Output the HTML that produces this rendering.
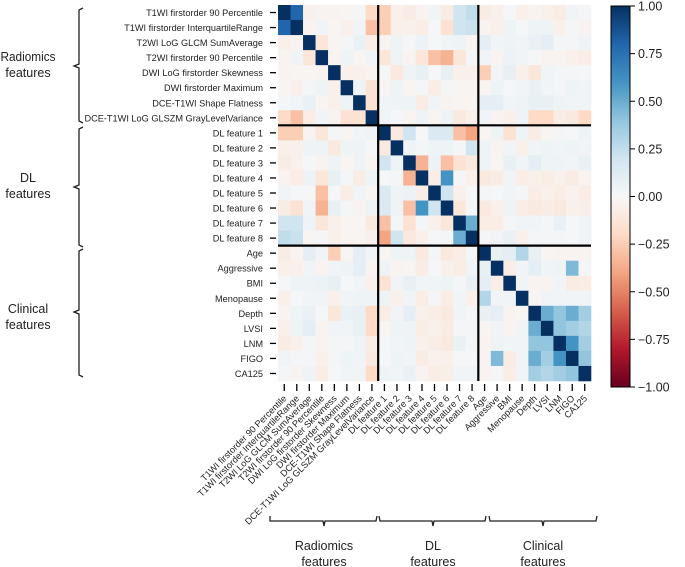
<!DOCTYPE html>
<html><head><meta charset="utf-8"><style>
html,body{margin:0;padding:0;background:#fff;}
svg{display:block;font-family:"Liberation Sans","DejaVu Sans",sans-serif;}
</style></head><body>
<svg id="chart" width="685" height="567" viewBox="0 0 685 567" xmlns="http://www.w3.org/2000/svg">
<defs>
<linearGradient id="cbgrad" x1="0" y1="1" x2="0" y2="0">
<stop offset="0" stop-color="#67001f"/><stop offset="0.1" stop-color="#b2182b"/><stop offset="0.2" stop-color="#d6604d"/><stop offset="0.3" stop-color="#f4a582"/><stop offset="0.4" stop-color="#fddbc7"/><stop offset="0.5" stop-color="#f7f7f7"/><stop offset="0.6" stop-color="#d1e5f0"/><stop offset="0.7" stop-color="#92c5de"/><stop offset="0.8" stop-color="#4393c3"/><stop offset="0.9" stop-color="#2166ac"/><stop offset="1" stop-color="#053061"/>
</linearGradient>
</defs>
<g id="cells"></g>
<g id="dividers"></g>
<g id="yaxis"></g>
<g id="xaxis"></g>
<g id="colorbar">
<rect x="611" y="6" width="19" height="381" fill="url(#cbgrad)" stroke="#000" stroke-width="1"/>
</g>
<g id="groups" font-size="12.5" fill="#222" text-anchor="middle">
<path d="M83,8 L79,10 L79,64 L74,66 L79,68 L79,121 L83,123" fill="none" stroke="#222" stroke-width="1.3"/>
<text x="28" y="61" textLength="55" lengthAdjust="spacingAndGlyphs">Radiomics</text>
<text x="28" y="77">features</text>
<path d="M83,127 L79,129 L79,185 L74,187 L79,189 L79,245 L83,247" fill="none" stroke="#222" stroke-width="1.3"/>
<text x="28" y="182">DL</text>
<text x="28" y="198">features</text>
<path d="M83,249 L79,251 L79,310 L74,312 L79,314 L79,375 L83,377" fill="none" stroke="#222" stroke-width="1.3"/>
<text x="28" y="313">Clinical</text>
<text x="28" y="329">features</text>
<path d="M270,516 L270,521 L323,521 L324,526 L325,521 L376,521 L377,516" fill="none" stroke="#222" stroke-width="1.3"/>
<text x="324" y="550">Radiomics</text>
<text x="324" y="566">features</text>
<path d="M379,516 L380,521 L432,521 L433,526 L434,521 L485,521 L486,516" fill="none" stroke="#222" stroke-width="1.3"/>
<text x="433" y="550">DL</text>
<text x="433" y="566">features</text>
<path d="M489,516 L490,521 L542,521 L543,526 L544,521 L596,521 L597,516" fill="none" stroke="#222" stroke-width="1.3"/>
<text x="543" y="550">Clinical</text>
<text x="543" y="566">features</text>
</g>
</svg>
<script>
const labels = ["T1WI firstorder 90 Percentile","T1WI firstorder InterquartileRange","T2WI LoG GLCM SumAverage","T2WI firstorder 90 Percentile","DWI LoG firstorder Skewness","DWI firstorder Maximum","DCE-T1WI Shape Flatness","DCE-T1WI LoG GLSZM GrayLevelVariance","DL feature 1","DL feature 2","DL feature 3","DL feature 4","DL feature 5","DL feature 6","DL feature 7","DL feature 8","Age","Aggressive","BMI","Menopause","Depth","LVSI","LNM","FIGO","CA125"];
const groupBreaks = [8, 16];
const colorbarTicks = [1.00, 0.75, 0.50, 0.25, 0.00, -0.25, -0.50, -0.75, -1.00];
// upper triangle rows: row i lists correlations for columns i..24
const upper = [
[1,0.8,-0.05,-0.03,-0.03,-0.02,0.02,-0.2,-0.25,-0.05,-0.08,-0.03,0.03,-0.08,0.2,0.25,-0.08,-0.05,0.01,-0.05,-0.03,-0.05,-0.08,0.03,0.02],
[1,-0.03,0.03,-0.02,-0.05,0.03,-0.3,-0.25,-0.05,-0.05,-0.07,0.01,-0.15,0.2,0.22,-0.03,-0.05,0.05,0.01,0.05,0.05,-0.05,0.02,-0.03],
[1,-0.12,-0.02,0.02,0.07,-0.07,-0.03,0.05,0.01,0.06,0.01,0.03,0.05,-0.02,0.1,0.03,0.05,0.03,0.07,0.1,0.02,0.02,0.04],
[1,-0.03,0.05,-0.02,0.03,-0.12,0.05,-0.03,-0.12,-0.3,-0.35,-0.12,0.02,0.03,-0.03,0.06,0.03,0.01,-0.03,-0.03,-0.05,-0.07],
[1,-0.05,-0.05,-0.03,0.02,-0.1,0.05,0.08,0.01,0.08,-0.05,-0.05,-0.25,0.03,0.08,-0.05,-0.12,0.03,0.02,0.02,0.01],
[1,0.05,-0.15,-0.02,0.05,-0.02,0.02,-0.07,0.02,-0.02,-0.02,-0.02,0.05,0.01,0.03,0.07,0.03,0.02,0.05,0.03],
[1,-0.15,0.03,0.05,0.05,-0.08,0.03,-0.03,-0.02,-0.02,0.1,0.1,0.03,0.05,0.08,0.08,0.05,0.03,0.03],
[1,0.05,0.01,-0.02,0.05,-0.02,0.05,-0.1,-0.05,0.03,-0.03,-0.05,0.05,-0.2,-0.2,-0.08,-0.1,-0.2],
[1,-0.1,0.2,0.01,0.15,0.15,-0.3,-0.4,-0.02,0.05,-0.15,0.05,-0.08,-0.02,0.02,0.01,0.05],
[1,0.05,0.02,0.05,0.05,0.02,0.2,0.05,-0.03,0.03,-0.05,0.03,0.05,0.03,0.05,0.03],
[1,-0.35,0.06,-0.3,-0.15,-0.1,0.05,-0.02,0.08,0.03,0.1,0.05,0.05,0.03,0.07],
[1,-0.07,0.6,0.02,-0.05,-0.1,-0.08,0.03,-0.07,-0.05,-0.07,-0.05,-0.08,-0.03],
[1,0.2,-0.05,0.01,0.02,0.01,0.03,0.02,-0.07,-0.05,-0.07,-0.04,-0.07],
[1,-0.12,0.02,-0.1,-0.05,0.05,-0.07,-0.1,-0.08,-0.1,-0.05,-0.06],
[1,0.5,-0.07,-0.07,0.02,0.03,0.03,0.02,0.07,0.01,0.03],
[1,0.02,0.03,0.07,-0.05,0.02,0.02,0.02,0.01,0.03],
[1,0.08,0.1,0.3,0.08,-0.02,-0.03,-0.03,-0.03],
[1,-0.07,0.03,0.1,0.03,0.05,0.45,0.02],
[1,0.03,-0.03,-0.03,0.03,-0.08,-0.07],
[1,-0.02,0.03,0.03,0.03,0.03],
[1,0.5,0.4,0.5,0.35],
[1,0.4,0.35,0.3],
[1,0.6,0.35],
[1,0.4],
[1]
];

const NS = "http://www.w3.org/2000/svg";
const X0 = 278, X1 = 591, Y0 = 5, Y1 = 381;
const n = labels.length;
const cw = (X1 - X0) / n, ch = (Y1 - Y0) / n;
const xPos = i => X0 + i * cw;
const yPos = i => Y0 + i * ch;
const CB_TOP = 6, CB_BOT = 387;
const cbY = v => CB_BOT - (v + 1) / 2 * (CB_BOT - CB_TOP);

const stops = [[-1,[103,0,31]],[-0.8,[178,24,43]],[-0.6,[214,96,77]],[-0.4,[244,165,130]],[-0.2,[253,219,199]],[0,[247,247,247]],[0.2,[209,229,240]],[0.4,[146,197,222]],[0.6,[67,147,195]],[0.8,[33,102,172]],[1,[5,48,97]]];
function color(v){
  v = Math.max(-1, Math.min(1, v));
  for (let k = 0; k < stops.length - 1; k++){
    const [a, ca] = stops[k], [b, cb] = stops[k+1];
    if (v <= b){
      const t = (v - a) / (b - a);
      const c = ca.map((x, j) => Math.round(x + (cb[j] - x) * t));
      return `rgb(${c[0]},${c[1]},${c[2]})`;
    }
  }
  return "rgb(5,48,97)";
}
function val(i, j){
  const a = Math.min(i, j), b = Math.max(i, j);
  return upper[a][b - a];
}
function mk(tag, attrs, parent){
  const e = document.createElementNS(NS, tag);
  for (const k in attrs) e.setAttribute(k, attrs[k]);
  parent.appendChild(e);
  return e;
}

const cells = document.getElementById("cells");
for (let i = 0; i < n; i++){
  for (let j = 0; j < n; j++){
    const r = mk("rect", {x: xPos(j), y: yPos(i), width: cw + 0.3, height: ch + 0.3, fill: color(val(i, j))}, cells);
    
    
  }
}

const div = document.getElementById("dividers");
groupBreaks.forEach(b => {
  const v = mk("line", {x1: xPos(b), x2: xPos(b), y1: Y0, y2: Y1, stroke: "#000", "stroke-width": 2.2}, div);
  
  
  const h = mk("line", {x1: X0, x2: X1, y1: yPos(b), y2: yPos(b), stroke: "#000", "stroke-width": 2.2}, div);
  
  
});

const ya = document.getElementById("yaxis");
const xa = document.getElementById("xaxis");
labels.forEach((lab, i) => {
  const cy = yPos(i) + ch / 2;
  const t = mk("line", {x1: 270, x2: 276, y1: cy, y2: cy, stroke: "#000", "stroke-width": 1.3}, ya);
  
  
  const tx = mk("text", {x: 263, y: cy + 3.5, "text-anchor": "end", "font-size": 9.2, fill: "#222"}, ya);
  tx.textContent = lab;
  
  

  const cx = xPos(i) + cw / 2;
  const t2 = mk("line", {x1: cx, x2: cx, y1: 384, y2: 391, stroke: "#000", "stroke-width": 1.3}, xa);
  
  
  const tx2 = mk("text", {x: cx + 3, y: 399, "text-anchor": "end", "font-size": 9.2, fill: "#222", transform: `rotate(-45 ${cx + 3} 399)`}, xa);
  tx2.textContent = lab;
  
  
});

const cb = document.getElementById("colorbar");
colorbarTicks.forEach(v => {
  const y = cbY(v);
  const t = mk("line", {x1: 630, x2: 635, y1: y, y2: y, stroke: "#000", "stroke-width": 1}, cb);
  
  
  const tx = mk("text", {x: 638, y: y + 4.5, "font-size": 12.5, fill: "#222"}, cb);
  tx.textContent = (v < 0 ? "\u2212" : "") + Math.abs(v).toFixed(2);
  
  
});
</script>
</body></html>
